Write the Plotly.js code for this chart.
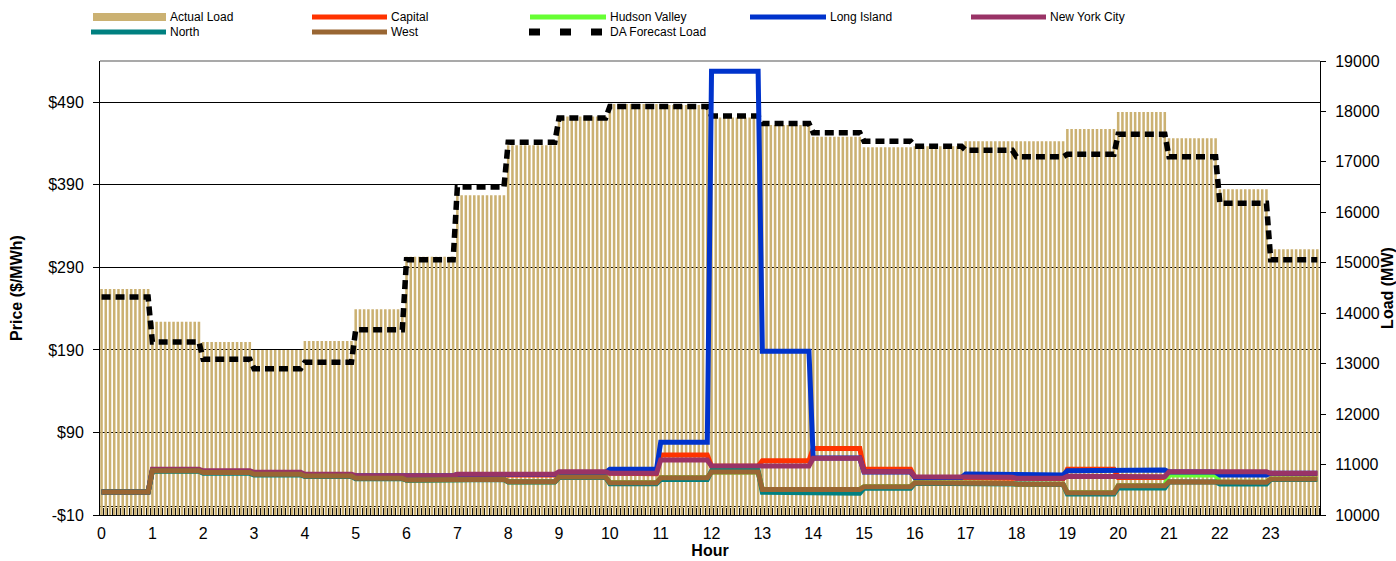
<!DOCTYPE html>
<html>
<head>
<meta charset="utf-8">
<script src="https://cdn.plot.ly/plotly-3.0.1.min.js"></script>
<style>html,body{margin:0;padding:0;background:#ffffff;}</style>
</head>
<body>
<div id="chart" style="width:1396px;height:561px;"></div>
<script>
// ---------------- DATA (hourly values) ----------------
const hourLabels = ['0','1','2','3','4','5','6','7','8','9','10','11','12','13','14','15','16','17','18','19','20','21','22','23'];
const hourTicks = [0,1,2,3,4,5,6,7,8,9,10,11,12,13,14,15,16,17,18,19,20,21,22,23];
const priceTickVals = [-10, 90, 190, 290, 390, 490];
const priceTickText = ['-$10', '$90', '$190', '$290', '$390', '$490'];

// Load (MW), right axis
const actualLoad     = [14480, 13830, 13430, 13270, 13450, 14080, 15120, 16340, 17330, 17900, 18150, 18130, 17880, 17730, 17500, 17290, 17310, 17410, 17410, 17650, 17990, 17470, 16460, 15270];
const daForecastLoad = [14320, 13430, 13090, 12900, 13030, 13670, 15060, 16500, 17390, 17870, 18100, 18100, 17910, 17760, 17580, 17410, 17310, 17230, 17100, 17150, 17550, 17100, 16180, 15060];

// Real-time zonal prices ($/MWh), left axis
const capital      = [18, 44.5, 42.5, 40.5, 38.0, 36.0, 37.0, 38.5, 38.5, 41.5, 40.0, 62.6, 49.0, 55.7, 70.7, 45.3, 35.5, 35.0, 34.0, 45.5, 35.5, 41.0, 41.5, 40.0];
const hudsonValley = [18, 43.5, 41.5, 39.3, 37.2, 34.4, 32.4, 33.4, 30.3, 36.0, 29.0, 35.0, 42.0, 21.0, 21.0, 24.3, 29.0, 28.3, 27.2, 17.0, 25.5, 38.4, 29.6, 33.6];
const longIsland   = [18, 44.0, 42.0, 40.0, 38.0, 37.0, 37.6, 39.0, 39.0, 41.5, 45.3, 78.0, 527.5, 188.5, 59.0, 42.0, 35.5, 39.6, 38.4, 43.5, 44.5, 42.0, 38.4, 40.5];
const newYorkCity  = [18, 45.3, 43.6, 41.7, 39.3, 37.6, 37.6, 39.3, 39.3, 42.4, 40.5, 56.6, 49.3, 49.3, 58.6, 42.4, 36.4, 35.6, 34.6, 37.0, 36.4, 42.4, 42.4, 40.5];
const north        = [18, 43.0, 40.5, 38.5, 36.5, 34.0, 32.0, 33.0, 30.0, 35.5, 28.0, 33.0, 43.5, 17.5, 16.3, 22.5, 28.5, 28.0, 27.0, 15.4, 22.8, 30.0, 27.5, 33.0];
const west         = [18, 43.5, 41.5, 39.3, 37.2, 34.4, 32.4, 33.4, 30.3, 36.0, 29.0, 35.0, 42.0, 21.0, 21.0, 24.3, 29.0, 28.3, 27.2, 17.0, 25.5, 30.3, 29.6, 33.6];

// ---------------- build 5-minute series (12 intervals per hour, values held within each hour) ----------------
const INTERVALS = 12;
function perInterval(hourly) {
  const out = [];
  hourly.forEach(v => { for (let k = 0; k < INTERVALS; k++) out.push(v); });
  return out;
}
const xIntervals = [];
for (let i = 0; i < hourLabels.length * INTERVALS; i++) xIntervals.push(i / INTERVALS);

// ---------------- styles ----------------
const FONT = 'Arial, "Liberation Sans", sans-serif';
const TAN = 'rgb(203,177,114)';
const zones = [
  {name: 'Capital',       values: capital,      color: '#FF3300'},
  {name: 'Hudson Valley', values: hudsonValley, color: '#66FF33'},
  {name: 'Long Island',   values: longIsland,   color: '#0033CC'},
  {name: 'New York City', values: newYorkCity,  color: '#993366'},
  {name: 'North',         values: north,        color: '#008080'},
  {name: 'West',          values: west,         color: '#996633'}
];

const traces = [];
traces.push({
  type: 'bar', name: 'Actual Load', x: xIntervals, y: perInterval(actualLoad),
  xaxis: 'x', yaxis: 'y', marker: {color: TAN, line: {width: 0}}, hoverinfo: 'x+y'
});
traces.push({
  type: 'scatter', mode: 'lines', name: 'DA Forecast Load', x: xIntervals, y: perInterval(daForecastLoad),
  xaxis: 'x', yaxis: 'y', line: {color: '#000000', width: 5.5, dash: '9px,5px'}
});
zones.forEach(z => traces.push({
  type: 'scatter', mode: 'lines', name: z.name, x: xIntervals, y: perInterval(z.values),
  xaxis: 'x', yaxis: 'y2', line: {color: z.color, width: 5}
}));

// ---------------- geometry ----------------
const W = 1396, H = 561, ML = 100, MR = 76, MT = 61, MB = 46;
const PW = W - ML - MR, PH = H - MT - MB;
const px = v => (v - ML) / PW;
const py = v => (MT + PH - v) / PH;

// custom legend (two rows, Excel style)
const legendItems = [
  {name: 'Actual Load',      kind: 'rect', color: TAN,       x0: 93,  x1: 166,  y: 17, tx: 168},
  {name: 'Capital',          kind: 'line', color: '#FF3300', x0: 312, x1: 387,  y: 17, tx: 389},
  {name: 'Hudson Valley',    kind: 'line', color: '#66FF33', x0: 530, x1: 606,  y: 17, tx: 608},
  {name: 'Long Island',      kind: 'line', color: '#0033CC', x0: 750, x1: 826,  y: 17, tx: 828},
  {name: 'New York City',    kind: 'line', color: '#993366', x0: 971, x1: 1046, y: 17, tx: 1048},
  {name: 'North',            kind: 'line', color: '#008080', x0: 91,  x1: 166,  y: 32, tx: 168},
  {name: 'West',             kind: 'line', color: '#996633', x0: 312, x1: 387,  y: 32, tx: 389},
  {name: 'DA Forecast Load', kind: 'dash', color: '#000000', x0: 529, x1: 602,  y: 32, tx: 608}
];
const shapes = [];
const annotations = [];
legendItems.forEach(it => {
  if (it.kind === 'rect') {
    shapes.push({type: 'rect', xref: 'paper', yref: 'paper', x0: px(it.x0), x1: px(it.x1),
      y0: py(it.y + 4), y1: py(it.y - 4), fillcolor: it.color, line: {width: 0}});
  } else if (it.kind === 'line') {
    shapes.push({type: 'line', xref: 'paper', yref: 'paper', x0: px(it.x0), x1: px(it.x1),
      y0: py(it.y), y1: py(it.y), line: {color: it.color, width: 5}});
  } else {
    shapes.push({type: 'line', xref: 'paper', yref: 'paper', x0: px(it.x0), x1: px(it.x1),
      y0: py(it.y), y1: py(it.y), line: {color: it.color, width: 7, dash: '11px,20px'}});
  }
  annotations.push({text: it.name, xref: 'paper', yref: 'paper', x: px(it.tx), y: py(it.y),
    xanchor: 'left', yanchor: 'middle', showarrow: false, font: {family: FONT, size: 12, color: '#000'}});
});
// gray plot-area border on top
shapes.push({type: 'line', xref: 'paper', yref: 'paper', x0: 0, x1: 1, y0: 1, y1: 1, line: {color: '#8c8c8c', width: 1.5}});

// minor tick positions between 5-minute intervals
const minorVals = [];
for (let i = 0; i <= hourLabels.length * INTERVALS; i++) minorVals.push(i / INTERVALS - 1 / (2 * INTERVALS));

const layout = {
  width: W, height: H,
  margin: {l: ML, r: MR, t: MT, b: MB, pad: 0},
  paper_bgcolor: '#ffffff', plot_bgcolor: '#ffffff',
  font: {family: FONT, size: 16, color: '#000'},
  showlegend: false,
  bargap: 0.4,
  xaxis: {
    range: [-0.03, 23.97], tickmode: 'array', tickvals: hourTicks, ticktext: hourLabels,
    ticks: '', showline: true, linecolor: '#000', linewidth: 1, showgrid: false, zeroline: false,
    tickfont: {family: FONT, size: 16}, ticklabelstandoff: 4, automargin: false,
    minor: {tickmode: 'array', tickvals: minorVals, ticks: 'inside', ticklen: 7, tickcolor: '#111', tickwidth: 1, showgrid: false},
    title: {text: 'Hour', font: {family: FONT, size: 16, weight: 'bold'}, standoff: 2}
  },
  yaxis: {
    side: 'right', range: [10000, 19000], tickmode: 'linear', tick0: 10000, dtick: 1000, tickformat: 'd',
    ticks: 'outside', ticklen: 5, tickcolor: '#000', showline: true, linecolor: '#000', linewidth: 1,
    showgrid: false, zeroline: false, tickfont: {family: FONT, size: 16}, ticklabelstandoff: 6, automargin: false,
    title: {text: 'Load (MW)', font: {family: FONT, size: 16, weight: 'bold'}, standoff: 13}
  },
  yaxis2: {
    overlaying: 'y', side: 'left', range: [-10, 540], tickmode: 'array', tickvals: priceTickVals, ticktext: priceTickText,
    ticks: 'outside', ticklen: 6, tickcolor: '#000', showline: true, linecolor: '#000', linewidth: 1,
    showgrid: true, gridcolor: '#000', gridwidth: 1,
    zeroline: true, zerolinecolor: '#000', zerolinewidth: 1,
    tickfont: {family: FONT, size: 16}, ticklabelstandoff: 6, automargin: false,
    title: {text: 'Price ($/MWh)', font: {family: FONT, size: 16, weight: 'bold'}, standoff: 21}
  },
  yaxis3: {
    overlaying: 'y', side: 'right', anchor: 'x', range: [10000, 19000], tickmode: 'linear', tick0: 10000, dtick: 1000,
    ticks: 'inside', ticklen: 5, tickcolor: '#000', showticklabels: false, showline: false, showgrid: false, zeroline: false
  },
  shapes: shapes,
  annotations: annotations
};

Plotly.newPlot('chart', traces, layout, {displayModeBar: false, staticPlot: true});
</script>
</body>
</html>
